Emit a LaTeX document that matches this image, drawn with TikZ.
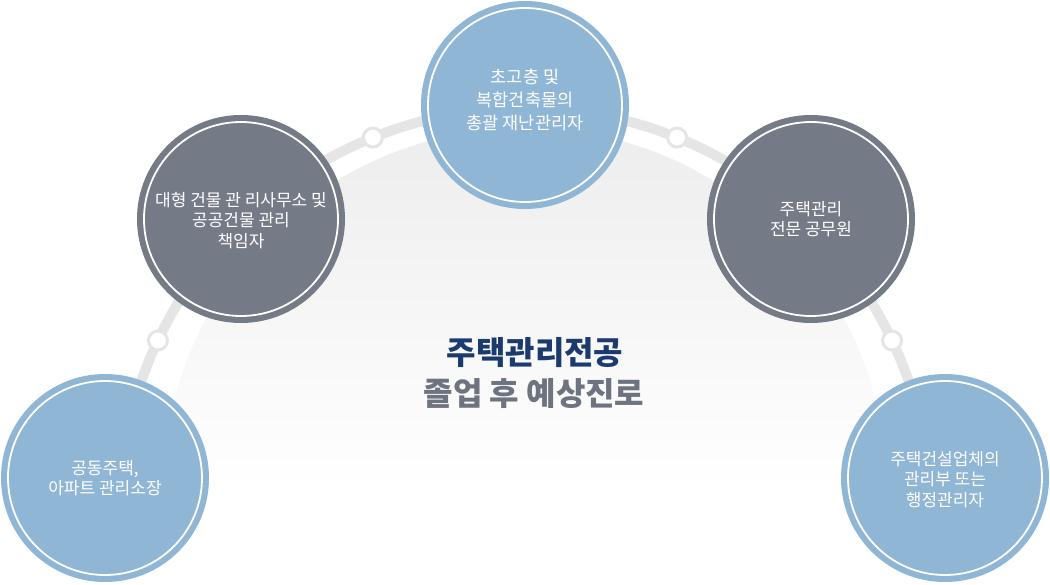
\documentclass[tikz,border=0pt]{standalone}
\usepackage{fontspec}
\setmainfont{Noto Sans CJK KR}
\definecolor{cblue}{HTML}{90B6D5}
\definecolor{cgray}{HTML}{757A87}
\definecolor{bandc}{HTML}{E5E5E5}
\definecolor{navy}{HTML}{1B3B6F}
\definecolor{subgray}{HTML}{6D737F}
\definecolor{discc}{HTML}{EDEDED}
\begin{document}
\begin{tikzpicture}[x=1pt,y=-1pt,
  bigcircle/.style={circle, fill=#1, minimum size=208pt, inner sep=0pt,
    text=white, align=center,
    path picture={\draw[white,line width=1.8pt] (path picture bounding box.center) circle (97pt);}},
  smalltext/.style={font=\fontsize{17}{20.5}\selectfont},
  toptext/.style={font=\fontsize{17.5}{23}\selectfont},
  titlefont/.style={font=\fontsize{32}{41}\selectfont\bfseries},
  dotnode/.style={circle, fill=white, draw=bandc, line width=3pt, minimum size=19pt, inner sep=0pt},
  band/.style={draw=bandc, line width=10pt}]
\useasboundingbox (0,0) rectangle (1050,584);
\fill[white] (0,0) rectangle (1050,584);
% background disc
\begin{scope}
\clip (0,0) rectangle (1050,584);
\shade[top color=discc, bottom color=white, middle color=white] (525,490) circle (362);
\end{scope}
% band arc
\coordinate (arcC) at (525,514);
\draw[band] ([shift={(-170:406)}]arcC) arc[start angle=-170, end angle=-10, radius=406];
% small dots
\node[dotnode] (d1) at ([shift={(-154.7:406)}]arcC) {};
\node[dotnode] (d2) at ([shift={(-112:406)}]arcC) {};
\node[dotnode] (d3) at ([shift={(-68:406)}]arcC) {};
\node[dotnode] (d4) at ([shift={(-25.3:406)}]arcC) {};
% big circles
\node[bigcircle=cblue, smalltext] (c1) at (105,478) {공동주택,\\아파트 관리소장};
\node[bigcircle=cgray, smalltext] (c2) at (241,219) {\mbox{}\\[-4pt]대형 건물 관 리사무소 및\\공공건물 관리\\책임자};
\node[bigcircle=cblue, toptext] (c3) at (525,105) {초고층 및\\복합건축물의\\총괄 재난관리자\\[-11pt]\mbox{}};
\node[bigcircle=cgray, smalltext] (c4) at (811,219) {주택관리\\전문 공무원};
\node[bigcircle=cblue, smalltext] (c5) at (945,478) {\mbox{}\\[-4pt]주택건설업체의\\관리부 또는\\행정관리자};
% title
\node[titlefont, text=navy] (t1) at (535,353) {주택관리전공};
\node[titlefont, text=subgray] (t2) at (534,394) {졸업 후 예상진로};
\end{tikzpicture}
\end{document}
